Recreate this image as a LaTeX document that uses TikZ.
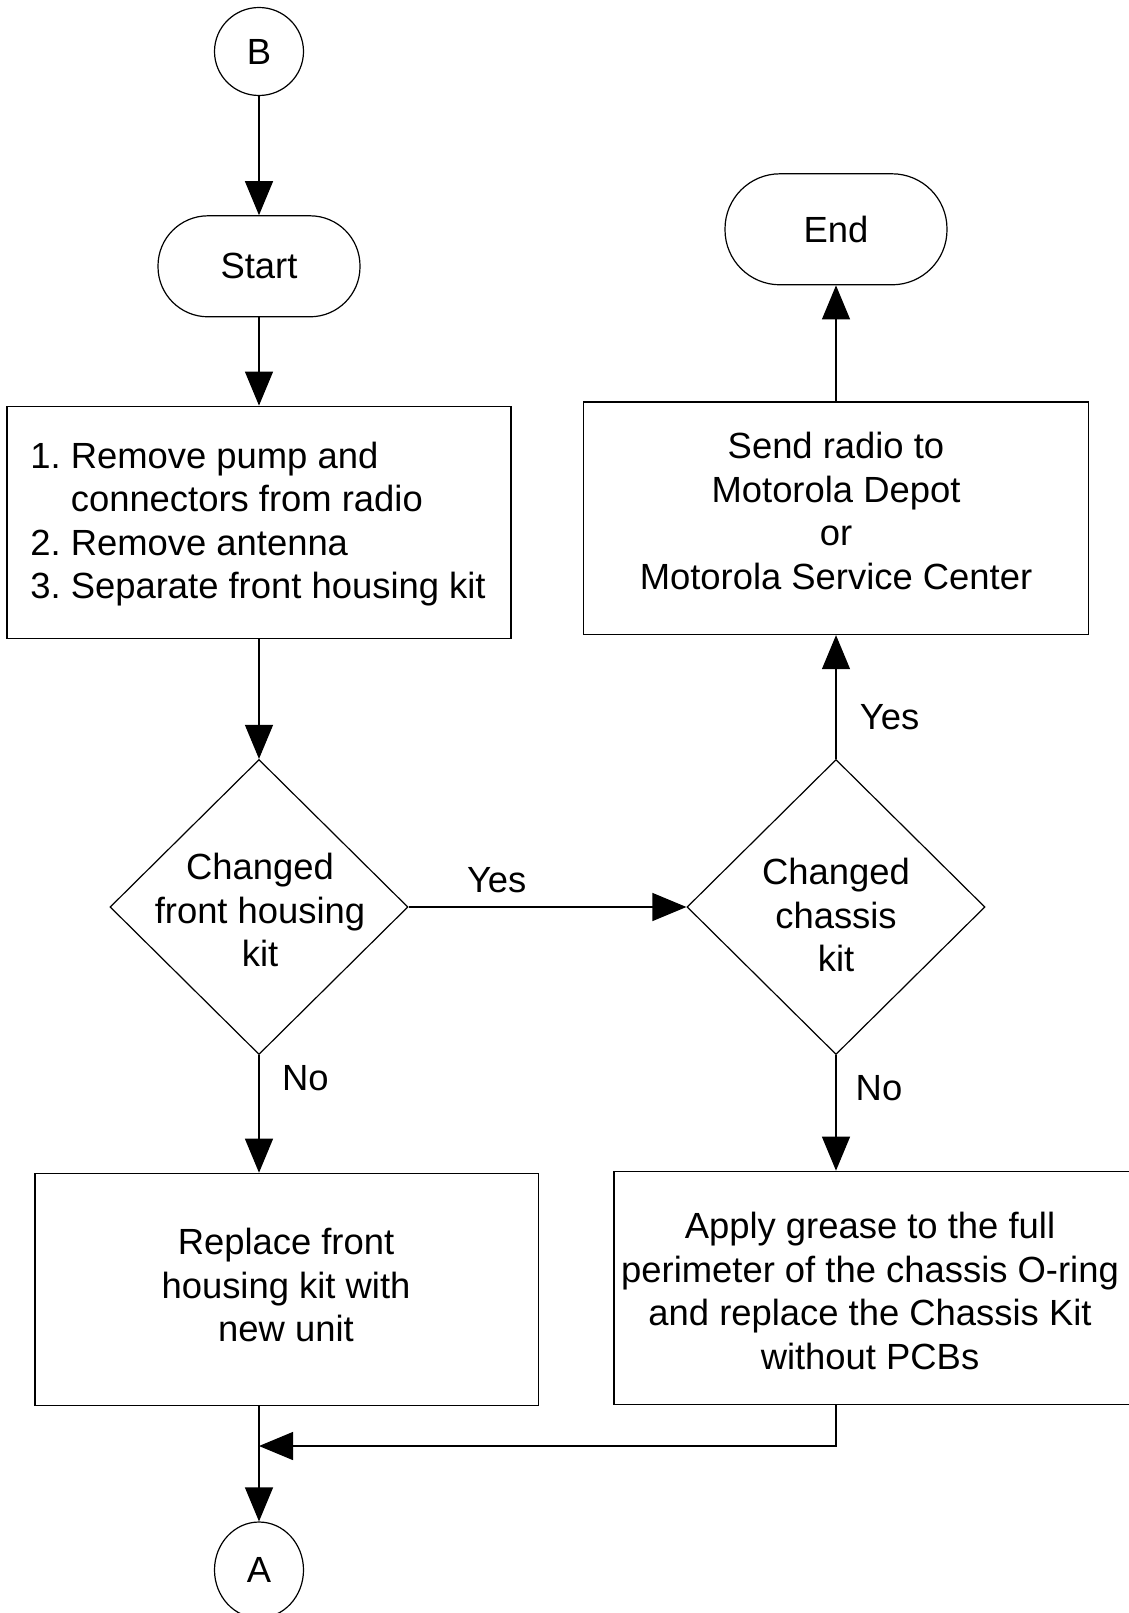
\documentclass[tikz,border=0pt]{standalone}
\usepackage{fontspec}
\setmainfont{Liberation Sans}
\usetikzlibrary{shapes.geometric,arrows.meta}
\frenchspacing
\begin{document}
\begin{tikzpicture}[x=1pt,y=-1pt,
  every node/.style={font=\fontsize{36.4}{43.5}\selectfont, inner sep=0pt, align=center},
  base/.style={draw, line width=1.2pt},
  procbox/.style={base, rectangle},
  term/.style={base, rectangle, rounded corners=#1},
  conn/.style={base, ellipse, minimum width=89pt, minimum height=88pt},
  decision/.style={base, diamond, minimum width=298pt, minimum height=295pt},
  flow/.style={line width=1.2pt, -{Triangle[length=34pt,width=28pt]}},
  plain/.style={line width=1.2pt}
]
\useasboundingbox (0,0) rectangle (1128,1613);

% connectors B and A
\node[conn] (B) at (259,51.5) {B};
\node[conn, minimum height=96pt] (A) at (259,1570) {A};

% terminals
\node[term=50pt, minimum width=202pt, minimum height=101pt] (start) at (259,266.3) {Start};
\node[term=55pt, minimum width=222pt, minimum height=111pt] (end) at (836,229.3) {End};

% process boxes
\node[procbox, minimum width=504pt, minimum height=232.4pt] (box1) at (259,522.4) {};
\node[align=left] (box1t) at (258,524) {1. Remove pump and\\\phantom{1.\ }connectors from radio\\2. Remove antenna\\3. Separate front housing kit};

\node[procbox, minimum width=505pt, minimum height=232.5pt] (send) at (836,518.3) {};
\node (sendt) at (836,510.8) {Send radio to\\Motorola Depot\\or\\Motorola Service Center};

\node[procbox, minimum width=503.8pt, minimum height=232.4pt] (rep) at (286.9,1289.5) {};
\node (rept) at (286,1285) {Replace front\\housing kit with\\new unit};

\node[procbox, minimum width=516pt, minimum height=233.5pt] (grease) at (872,1288) {};
\node (greaset) at (870,1291) {Apply grease to the full\\perimeter of the chassis O-ring\\and replace the Chassis Kit\\without PCBs};

% decisions
\node[decision] (d1) at (259,907) {};
\node (d1t) at (260,910) {Changed\\front housing\\kit};
\node[decision] (d2) at (836,907) {};
\node (d2t) at (836,915) {Changed\\chassis\\kit};

% labels
\node (y1) at (496.7,880) {Yes};
\node (y2) at (889.5,716.7) {Yes};
\node (n1) at (305.4,1077.7) {No};
\node (n2) at (879,1088) {No};

% flow
\draw[flow] (B) -- (start);
\draw[flow] (start) -- (box1);
\draw[flow] (box1) -- (d1);
\draw[flow] (d1.east) -- (d2.west);
\draw[flow] (d2.north) -- (send.south);
\draw[flow] (send.north) -- (end.south);
\draw[flow] (d1.south) -- (d1.south |- rep.north);
\draw[flow] (d2.south) -- (d2.south |- grease.north);
\draw[flow] (rep.south -| d1.south) -- (A.north);
\coordinate (m) at (259,1446);
\draw[flow] (grease.south -| d2.south) |- (m);
\end{tikzpicture}
\end{document}
